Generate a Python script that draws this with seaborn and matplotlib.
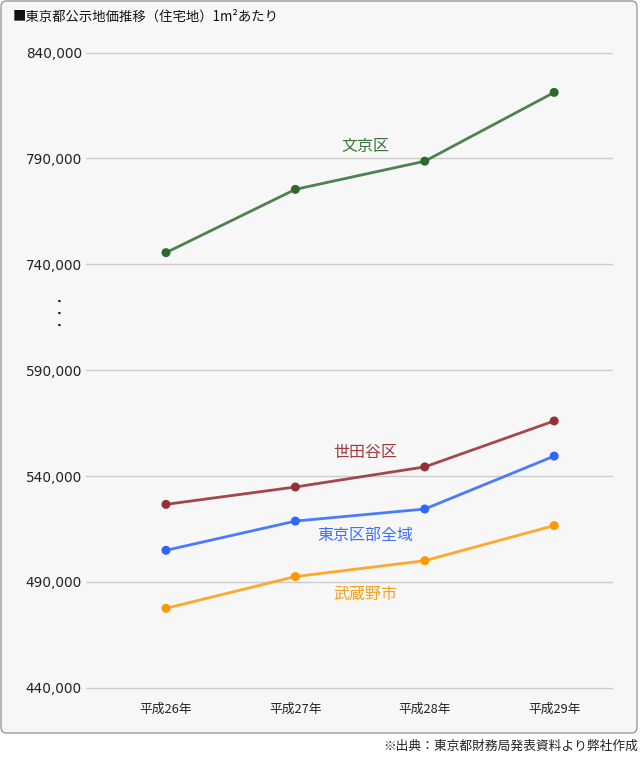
import numpy as np
import pandas as pd
import matplotlib
matplotlib.use("Agg")
import matplotlib.pyplot as plt
from matplotlib.patches import FancyBboxPatch
import seaborn as sns

years = ["平成26年", "平成27年", "平成28年", "平成29年"]
bunkyo = [745500, 775400, 788700, 821200]
setagaya = [526600, 534800, 544300, 566000]
kubu = [504900, 518700, 524400, 549400]
musashino = [477500, 492500, 500000, 516600]
series_names = ["文京区", "世田谷区", "東京区部全域", "武蔵野市"]
yticks = [440000, 490000, 540000, 590000, 740000, 790000, 840000]

line_colors = {"文京区": "#4f8050", "世田谷区": "#a4474a", "東京区部全域": "#4a7bff", "武蔵野市": "#ffa82b"}
mark_colors = {"文京区": "#2e6a30", "世田谷区": "#963035", "東京区部全域": "#2f66ff", "武蔵野市": "#ff9800"}
text_colors = {"文京区": "#3c753d", "世田谷区": "#a03a3c", "東京区部全域": "#3d6fff", "武蔵野市": "#f7a21f"}

df = pd.DataFrame({
    "year": years * 4,
    "value": bunkyo + setagaya + kubu + musashino,
    "series": sum([[n] * 4 for n in series_names], []),
})

sns.set_theme(style="white")
FONT = ["Noto Sans CJK JP", "DejaVu Sans"]
plt.rcParams["font.family"] = FONT

fig = plt.figure(figsize=(6.4, 7.58), dpi=100)
fig.patch.set_facecolor("white")

W, H = 640, 758
box = FancyBboxPatch((1 / W, 1 - 733 / H), 636 / W, 732 / H,
                     boxstyle="round,pad=0,rounding_size=0.008",
                     transform=fig.transFigure, facecolor="#f7f7f7",
                     edgecolor="#9a9a9a", linewidth=1.0, zorder=-5)
fig.patches.append(box)

ax = fig.add_axes([86 / W, 1 - 687.7 / H, (612 - 86) / W, (687.7 - 52.6) / H])
ax.set_zorder(5)
ax.set_facecolor("none")
ax.patch.set_alpha(0)

sns.lineplot(data=df, x="year", y="value", hue="series", palette=line_colors,
             estimator=None, linewidth=2.0, ax=ax, legend=False, zorder=3)
sns.scatterplot(data=df, x="year", y="value", hue="series", palette=mark_colors,
                s=42, edgecolor="none", ax=ax, legend=False, zorder=4)


def fwd(y):
    y = np.asarray(y, dtype=float)
    return np.where(y >= 740000, y - 100000,
                    np.where(y <= 590000, y, 590000 + (y - 590000) / 3.0))


def inv(t):
    t = np.asarray(t, dtype=float)
    return np.where(t >= 640000, t + 100000,
                    np.where(t <= 590000, t, 590000 + (t - 590000) * 3.0))


ax.set_yscale("function", functions=(fwd, inv))
ax.set_ylim(440000, 840000)
ax.set_xlim(-0.618, 3.447)
ax.set_yticks(yticks)
ax.set_yticklabels([f"{v:,}" for v in yticks], fontsize=9.8, color="#222222",
                   family=["DejaVu Sans"])
ax.yaxis.set_minor_locator(matplotlib.ticker.NullLocator())
ax.set_xticks(range(len(years)))
ax.set_xticklabels(years, fontsize=9.2, color="#222222")
ax.tick_params(axis="y", length=0, pad=3)
ax.tick_params(axis="x", length=0, pad=11)
ax.grid(axis="y", color="#cccccc", linewidth=1.0)
ax.grid(axis="x", visible=False)
for gl in ax.get_ygridlines():
    gl.set_clip_on(False)
for s in ax.spines.values():
    s.set_visible(False)
ax.set_xlabel("")
ax.set_ylabel("")

label_pos = {"文京区": (365, 146), "世田谷区": (365, 452), "東京区部全域": (365, 535), "武蔵野市": (365, 594)}
for name, (px, py) in label_pos.items():
    fig.text(px / W, 1 - py / H, name, ha="center", va="center", fontsize=11.5,
             color=text_colors[name])

for py in (301, 313, 325):
    fig.text(59 / W, 1 - py / H, "■", ha="center", va="center", fontsize=2.2,
             color="#222222", family=["DejaVu Sans"])

fig.text(13 / W, 1 - 17 / H, "■東京都公示地価推移（住宅地）1m²あたり", ha="left", va="center",
         fontsize=9.6, color="#111111")
fig.text(638 / W, 1 - 746 / H, "※出典：東京都財務局発表資料より弊社作成", ha="right", va="center",
         fontsize=9.2, color="#222222")

fig.savefig("out.png", dpi=100, facecolor="white")
